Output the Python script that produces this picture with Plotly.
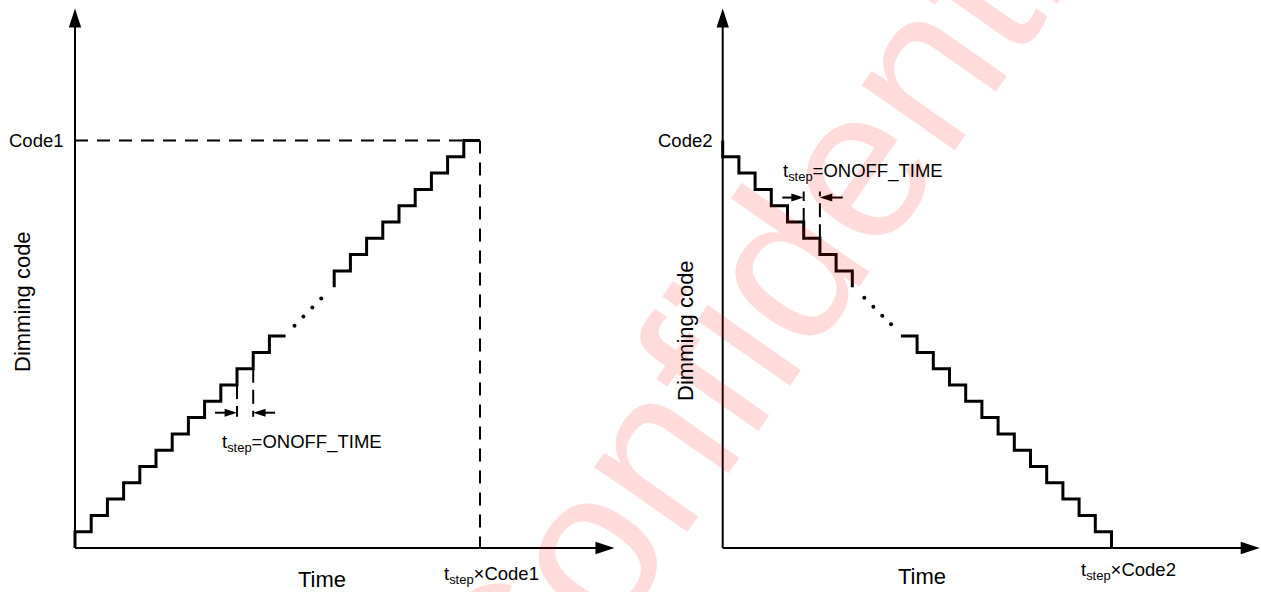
import plotly.graph_objects as go

# ---------------- data ----------------
code1 = 25
code2 = 25
# left panel: rising staircase, drawn in two parts with dots in between
left_lower_t = [0, 0, 1, 2, 3, 4, 5, 6, 7, 8, 9, 10, 11, 12, 13]
left_lower_code = [0, 1, 2, 3, 4, 5, 6, 7, 8, 9, 10, 11, 12, 13, 13]
left_upper_t = [16, 16, 17, 18, 19, 20, 21, 22, 23, 24, 25]
left_upper_code = [16, 17, 18, 19, 20, 21, 22, 23, 24, 25, 25]
left_dots_t = [13.55, 14.1, 14.65, 15.2]
left_dots_code = [13.64, 14.2, 14.75, 15.3]
# right panel: falling staircase
right_upper_t = [0, 0, 1, 2, 3, 4, 5, 6, 7, 8]
right_upper_code = [25, 24, 23, 22, 21, 20, 19, 18, 17, 16]
right_lower_t = [11, 12, 13, 14, 15, 16, 17, 18, 19, 20, 21, 22, 23, 24]
right_lower_code = [13, 12, 11, 10, 9, 8, 7, 6, 5, 4, 3, 2, 1, 0]
right_dots_t = [8.74, 9.30, 9.85, 10.39]
right_dots_code = [15.36, 14.8, 14.25, 13.72]
# t_step marker positions
left_tick_t = [10, 11]
left_tick_from = [10, 11]
left_tick_to = [8.05, 8.05]
left_arrow_level = 8.3
left_arrow_tail = [8.64, 12.35]
right_tick_t = [5, 6]
right_tick_from = [20, 19]
right_tick_to = [21.87, 21.87]
right_arrow_level = 21.5
right_arrow_tail = [3.68, 7.41]
axis_x_end = [33.3, 33.15]
axis_y_end = [33.1, 33.1]

FONT = "Liberation Sans, Arial, sans-serif"
W, H = 1261, 592
SPLIT = 630
PX_T, PX_C = 16.2, 16.3
OX_L, OX_R, OY = 75, 722.7, 548

fig = go.Figure()

def add_line(x, y, xa, ya, width=3, dash=None, shape="linear"):
    fig.add_trace(go.Scatter(x=x, y=y, xaxis=xa, yaxis=ya, mode="lines",
                             line=dict(color="black", width=width, dash=dash, shape=shape),
                             hoverinfo="skip", cliponaxis=False))

def add_head(x, y, angle, size, xa, ya):
    fig.add_trace(go.Scatter(x=[x], y=[y], xaxis=xa, yaxis=ya, mode="markers",
                             marker=dict(symbol="arrow", size=size, angle=angle, color="black",
                                         line=dict(width=0)),
                             hoverinfo="skip", cliponaxis=False))

DASH = "13px,9px"
for i, (xa, ya) in enumerate([("x", "y"), ("x2", "y2")]):
    # axes
    add_line([0, 0], [0, axis_y_end[i] - 0.5], xa, ya, width=2)
    add_line([0, axis_x_end[i] - 0.5], [0, 0], xa, ya, width=2)
    add_head(0, axis_y_end[i], 0, 20, xa, ya)
    add_head(axis_x_end[i], 0, 90, 20, xa, ya)

# left panel
add_line([0, code1 - 1], [code1, code1], "x", "y", width=2, dash=DASH)
add_line([code1, code1], [code1, 0], "x", "y", width=2, dash=DASH)
add_line(left_lower_t, left_lower_code, "x", "y", shape="hv")
add_line(left_upper_t, left_upper_code, "x", "y", shape="hv")
fig.add_trace(go.Scatter(x=left_dots_t, y=left_dots_code, mode="markers",
                         marker=dict(color="black", size=4), hoverinfo="skip"))
for t, a, b in zip(left_tick_t, left_tick_from, left_tick_to):
    add_line([t, t], [a, b], "x", "y", width=2, dash="14px,7px")
add_line([left_arrow_tail[0], left_tick_t[0] - 0.3], [left_arrow_level] * 2, "x", "y", width=2)
add_line([left_arrow_tail[1], left_tick_t[1] + 0.3], [left_arrow_level] * 2, "x", "y", width=2)
add_head(left_tick_t[0], left_arrow_level, 90, 13, "x", "y")
add_head(left_tick_t[1], left_arrow_level, 270, 13, "x", "y")

# right panel
add_line(right_upper_t, right_upper_code, "x2", "y2", shape="hv")
add_line(right_lower_t, right_lower_code, "x2", "y2", shape="hv")
fig.add_trace(go.Scatter(x=right_dots_t, y=right_dots_code, xaxis="x2", yaxis="y2", mode="markers",
                         marker=dict(color="black", size=4), hoverinfo="skip"))
for t, a, b in zip(right_tick_t, right_tick_from, right_tick_to):
    add_line([t, t], [a, b], "x2", "y2", width=2, dash="14px,7px")
add_line([right_arrow_tail[0], right_tick_t[0] - 0.3], [right_arrow_level] * 2, "x2", "y2", width=2)
add_line([right_arrow_tail[1], right_tick_t[1] + 0.3], [right_arrow_level] * 2, "x2", "y2", width=2)
add_head(right_tick_t[0], right_arrow_level, 90, 13, "x2", "y2")
add_head(right_tick_t[1], right_arrow_level, 270, 13, "x2", "y2")

def px(xp):
    return xp / W

def py(yp):
    return 1 - yp / H

ann = []
def text(s, x, y, size=18.5, angle=0, xref="paper", yref="paper", xanchor="center", xshift=0,
         color="black"):
    ann.append(dict(text=s, x=x, y=y, xref=xref, yref=yref, showarrow=False, xanchor=xanchor,
                    yanchor="middle", xshift=xshift, textangle=angle,
                    font=dict(family=FONT, size=size, color=color)))

# watermark first so it sits under the other texts
text("Confidential", px(785), py(262), size=215, angle=-55, color="rgba(255,0,0,0.14)")
text("Code1", 0, code1, xref="x", yref="y", xanchor="right", xshift=-9)
text("Code2", 0, code2, xref="x2", yref="y2", xanchor="right", xshift=-8)
text("Dimming code", px(22), py(302), size=22, angle=-90)
text("Dimming code", px(685), py(331), size=22, angle=-90)
text("Time", px(322), py(579), size=22)
text("Time", px(922), py(576), size=22)
text("t<sub>step</sub>×Code1", px(491.5), py(575))
text("t<sub>step</sub>×Code2", px(1128.5), py(571))
text("t<sub>step</sub>=ONOFF_TIME", px(301.5), py(443))
text("t<sub>step</sub>=ONOFF_TIME", px(862.5), py(172))

fig.update_layout(
    width=W, height=H, margin=dict(l=0, r=0, t=0, b=0),
    paper_bgcolor="white", plot_bgcolor="white", showlegend=False,
    annotations=ann,
    xaxis=dict(domain=[0, SPLIT / W], range=[-OX_L / PX_T, (SPLIT - OX_L) / PX_T], visible=False,
               fixedrange=True),
    yaxis=dict(domain=[0, 1], range=[-(H - OY) / PX_C, OY / PX_C], visible=False, fixedrange=True),
    xaxis2=dict(domain=[SPLIT / W, 1], range=[(SPLIT - OX_R) / PX_T, (W - OX_R) / PX_T],
                visible=False, anchor="y2", fixedrange=True),
    yaxis2=dict(domain=[0, 1], range=[-(H - OY) / PX_C, OY / PX_C], visible=False, anchor="x2",
                fixedrange=True),
)

fig.write_html("out.html")
